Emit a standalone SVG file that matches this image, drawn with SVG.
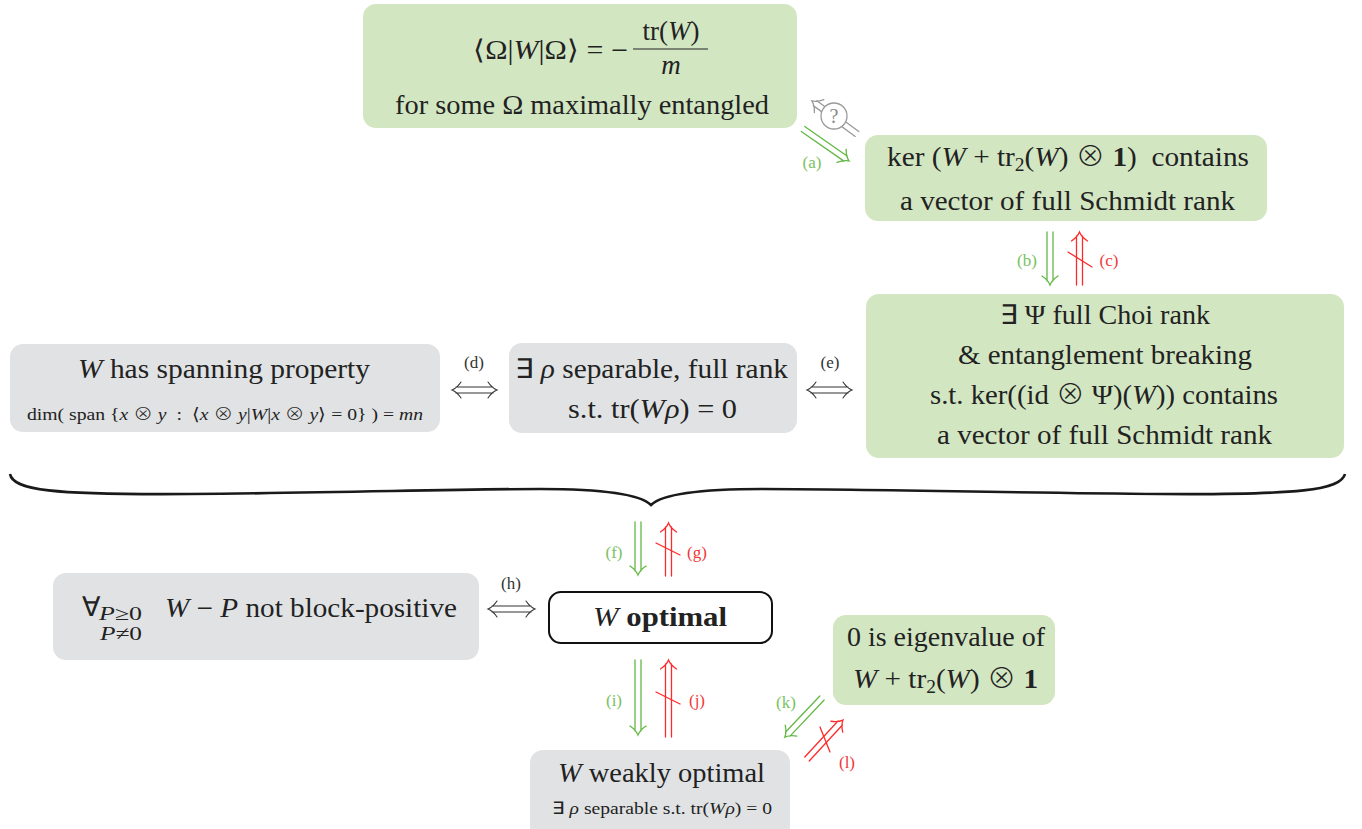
<svg xmlns="http://www.w3.org/2000/svg" width="1362" height="829" viewBox="0 0 1362 829">
  <defs>
    <style>
      text { font-family: "Liberation Serif", "Times New Roman", serif; fill: #222; }
      .t { font-size: 27px; }
      .s { font-size: 17px; }
      .i { font-style: italic; }
      .b { font-weight: bold; }
      .op { font-family: "Noto Sans CJK JP", "DejaVu Sans", sans-serif; font-weight: 300; }
      .green { fill: #d3e6c2; }
      .gray { fill: #e1e2e4; }
      .lbl { font-size: 17px; text-anchor: middle; }
      .lg { fill: #78c262; }
      .lr { fill: #f03a3a; }
      .ld { fill: #333; }
      .arr { fill: none; stroke-width: 1.3; stroke-linecap: round; }
      .ag { stroke: #62b845; }
      .ar { stroke: #ff2a2a; }
      .ak { stroke: #333; stroke-width: 1.1; }
      .aq { stroke: #9a9a9a; }
    </style>
  </defs>

  <!-- nodes -->
  <g id="node-omega">
    <rect class="green" x="363" y="4" width="434" height="124" rx="13"/>
    <text class="t" x="473" y="59" textLength="155" lengthAdjust="spacingAndGlyphs">⟨Ω|<tspan class="i">W</tspan>|Ω⟩ = −</text>
    <text class="t" x="671" y="40" text-anchor="middle" font-size="28">tr(<tspan class="i">W</tspan>)</text>
    <line x1="633" y1="49" x2="708" y2="49" stroke="#222" stroke-width="1.2"/>
    <text class="t i" x="671" y="74" text-anchor="middle">m</text>
    <text class="t" x="395" y="114" textLength="374" lengthAdjust="spacingAndGlyphs">for some Ω maximally entangled</text>
  </g>

  <g id="node-kernel">
    <rect class="green" x="865" y="135" width="402" height="86" rx="13"/>
    <text class="t" x="887" y="166" textLength="362" lengthAdjust="spacingAndGlyphs">ker (<tspan class="i">W</tspan> + tr<tspan font-size="18" dy="5">2</tspan><tspan dy="-5">(</tspan><tspan class="i">W</tspan>) <tspan class="op">⊗</tspan> <tspan class="b">1</tspan>)&#160;&#160;contains</text>
    <text class="t" x="900" y="210" textLength="335" lengthAdjust="spacingAndGlyphs">a vector of full Schmidt rank</text>
  </g>

  <g id="node-choi">
    <rect class="green" x="866" y="294" width="478" height="164" rx="13"/>
    <text class="t" x="1000" y="324" textLength="210" lengthAdjust="spacingAndGlyphs">∃ Ψ full Choi rank</text>
    <text class="t" x="958" y="364" textLength="294" lengthAdjust="spacingAndGlyphs">&amp; entanglement breaking</text>
    <text class="t" x="930" y="404" textLength="348" lengthAdjust="spacingAndGlyphs">s.t. ker((id <tspan class="op">⊗</tspan> Ψ)(<tspan class="i">W</tspan>)) contains</text>
    <text class="t" x="937" y="444" textLength="335" lengthAdjust="spacingAndGlyphs">a vector of full Schmidt rank</text>
  </g>

  <g id="node-spanning">
    <rect class="gray" x="10" y="344" width="430" height="88" rx="13"/>
    <text class="t" x="78" y="378" textLength="292" lengthAdjust="spacingAndGlyphs"><tspan class="i">W</tspan> has spanning property</text>
    <text class="s" x="27" y="420" textLength="396" lengthAdjust="spacingAndGlyphs">dim(&#160;span {<tspan class="i">x</tspan> <tspan class="op">⊗</tspan> <tspan class="i">y</tspan>&#160;&#160;:&#160;&#160;⟨<tspan class="i">x</tspan> <tspan class="op">⊗</tspan> <tspan class="i">y</tspan>|<tspan class="i">W</tspan>|<tspan class="i">x</tspan> <tspan class="op">⊗</tspan> <tspan class="i">y</tspan>⟩ = 0} ) = <tspan class="i">mn</tspan></text>
  </g>

  <g id="node-separable">
    <rect class="gray" x="509" y="343" width="288" height="90" rx="13"/>
    <text class="t" x="515" y="378" textLength="273" lengthAdjust="spacingAndGlyphs">∃ <tspan class="i">ρ</tspan> separable, full rank</text>
    <text class="t" x="568" y="418" textLength="169" lengthAdjust="spacingAndGlyphs">s.t. tr(<tspan class="i">Wρ</tspan>) = 0</text>
  </g>

  <g id="node-optimal">
    <rect x="549" y="592" width="223" height="51" rx="12" fill="#fff" stroke="#111" stroke-width="2"/>
    <text class="t" x="593" y="626" textLength="134" lengthAdjust="spacingAndGlyphs"><tspan class="i">W</tspan> <tspan class="b">optimal</tspan></text>
  </g>

  <g id="node-blockpositive">
    <rect class="gray" x="53" y="573" width="426" height="87" rx="13"/>
    <text class="t" x="82" y="616">∀</text>
    <text x="99" y="620" font-size="19" textLength="43" lengthAdjust="spacingAndGlyphs"><tspan class="i">P</tspan>≥0</text>
    <text x="100" y="640" font-size="19" textLength="42" lengthAdjust="spacingAndGlyphs"><tspan class="i">P</tspan>≠0</text>
    <text class="t" x="165" y="617" textLength="292" lengthAdjust="spacingAndGlyphs"><tspan class="i">W</tspan> − <tspan class="i">P</tspan> not block-positive</text>
  </g>

  <g id="node-weakly">
    <rect class="gray" x="530" y="750" width="260" height="90" rx="13"/>
    <text class="t" x="558" y="782" textLength="207" lengthAdjust="spacingAndGlyphs"><tspan class="i">W</tspan> weakly optimal</text>
    <text class="s" x="552" y="814" textLength="220" lengthAdjust="spacingAndGlyphs">∃ <tspan class="i">ρ</tspan> separable s.t. tr(<tspan class="i">Wρ</tspan>) = 0</text>
  </g>

  <g id="node-eigen">
    <rect class="green" x="833" y="615" width="222" height="90" rx="13"/>
    <text class="t" x="847" y="646" textLength="198" lengthAdjust="spacingAndGlyphs">0 is eigenvalue of</text>
    <text class="t" x="853" y="688" textLength="185" lengthAdjust="spacingAndGlyphs"><tspan class="i">W</tspan> + tr<tspan font-size="18" dy="5">2</tspan><tspan dy="-5">(</tspan><tspan class="i">W</tspan>) <tspan class="op">⊗</tspan> <tspan class="b">1</tspan></text>
  </g>

  <!-- brace grouping the upper row -->
  <g id="brace">
    <path d="M10,474 C13,490 50,495 190,494 C340,493 450,489 540,489 C600,489 640,494 651,505 C662,494 702,489 762,489 C870,489 1010,493 1160,494 C1300,495 1341,490 1345,474" fill="none" stroke="#1a1a1a" stroke-width="2.6"/>
  </g>

  <!-- connectors -->
  <g id="connectors">
    <!-- (a) -->
    <g class="arr ag" transform="translate(803,129) rotate(34.8)">
      <path d="M0,-3 H52 M0,3 H52 M47,-8 Q51,-2 56,0 Q51,2 47,8"/>
    </g>
    <!-- open question -->
    <g class="arr aq" transform="translate(857,134) rotate(216.3)">
      <path d="M0,-3 H52 M0,3 H52 M47,-8 Q51,-2 56,0 Q51,2 47,8"/>
    </g>
    <circle cx="834" cy="116" r="13" fill="#fff" stroke="#9a9a9a" stroke-width="1.3"/>
    <text x="834" y="123" font-size="20" text-anchor="middle" style="fill:#888">?</text>

    <!-- (b) / (c) -->
    <g class="arr ag" transform="translate(1050,232) rotate(90)">
      <path d="M0,-3 H49 M0,3 H49 M44,-8 Q48,-2 53,0 Q48,2 44,8"/>
    </g>
    <g class="arr ar" transform="translate(1079.5,285) rotate(-90)">
      <path d="M0,-3 H49 M0,3 H49 M44,-8 Q48,-2 53,0 Q48,2 44,8"/>
    </g>
    <line class="arr ar" x1="1068" y1="252" x2="1092" y2="267"/>

    <!-- (d) / (e) -->
    <g class="arr ak" transform="translate(452,390)">
      <path d="M4,-3 H41 M4,3 H41 M9,-8 Q5,-2 0,0 Q5,2 9,8 M36,-8 Q40,-2 45,0 Q40,2 36,8"/>
    </g>
    <g class="arr ak" transform="translate(807,390)">
      <path d="M4,-3 H41 M4,3 H41 M9,-8 Q5,-2 0,0 Q5,2 9,8 M36,-8 Q40,-2 45,0 Q40,2 36,8"/>
    </g>

    <!-- (f) / (g) -->
    <g class="arr ag" transform="translate(638,522) rotate(90)">
      <path d="M0,-3 H49 M0,3 H49 M44,-8 Q48,-2 53,0 Q48,2 44,8"/>
    </g>
    <g class="arr ar" transform="translate(668.5,576) rotate(-90)">
      <path d="M0,-3 H49 M0,3 H49 M44,-8 Q48,-2 53,0 Q48,2 44,8"/>
    </g>
    <line class="arr ar" x1="656" y1="543" x2="680" y2="555"/>

    <!-- (h) -->
    <g class="arr ak" transform="translate(488,609)">
      <path d="M4,-3 H43 M4,3 H43 M9,-8 Q5,-2 0,0 Q5,2 9,8 M38,-8 Q42,-2 47,0 Q42,2 38,8"/>
    </g>

    <!-- (i) / (j) -->
    <g class="arr ag" transform="translate(638,660) rotate(90)">
      <path d="M0,-3 H71 M0,3 H71 M66,-8 Q70,-2 75,0 Q70,2 66,8"/>
    </g>
    <g class="arr ar" transform="translate(668.5,737) rotate(-90)">
      <path d="M0,-3 H73 M0,3 H73 M68,-8 Q72,-2 77,0 Q72,2 68,8"/>
    </g>
    <line class="arr ar" x1="656" y1="692" x2="680" y2="704"/>

    <!-- (k) / (l) -->
    <g class="arr ag" transform="translate(822,698) rotate(133.5)">
      <path d="M0,-3 H50 M0,3 H50 M45,-8 Q49,-2 54,0 Q49,2 45,8"/>
    </g>
    <g class="arr ar" transform="translate(807,759) rotate(-47.3)">
      <path d="M0,-3 H49 M0,3 H49 M44,-8 Q48,-2 53,0 Q48,2 44,8"/>
    </g>
    <line class="arr ar" x1="820" y1="727" x2="830" y2="752"/>

    <!-- labels -->
    <text class="lbl lg" x="812" y="168">(a)</text>
    <text class="lbl lg" x="1027" y="266">(b)</text>
    <text class="lbl lr" x="1109" y="266">(c)</text>
    <text class="lbl ld" x="474" y="368">(d)</text>
    <text class="lbl ld" x="830" y="368">(e)</text>
    <text class="lbl lg" x="614" y="558">(f)</text>
    <text class="lbl lr" x="697" y="558">(g)</text>
    <text class="lbl ld" x="511" y="589">(h)</text>
    <text class="lbl lg" x="614" y="706">(i)</text>
    <text class="lbl lr" x="697" y="706">(j)</text>
    <text class="lbl lg" x="786" y="708">(k)</text>
    <text class="lbl lr" x="847" y="768">(l)</text>
  </g>
</svg>
